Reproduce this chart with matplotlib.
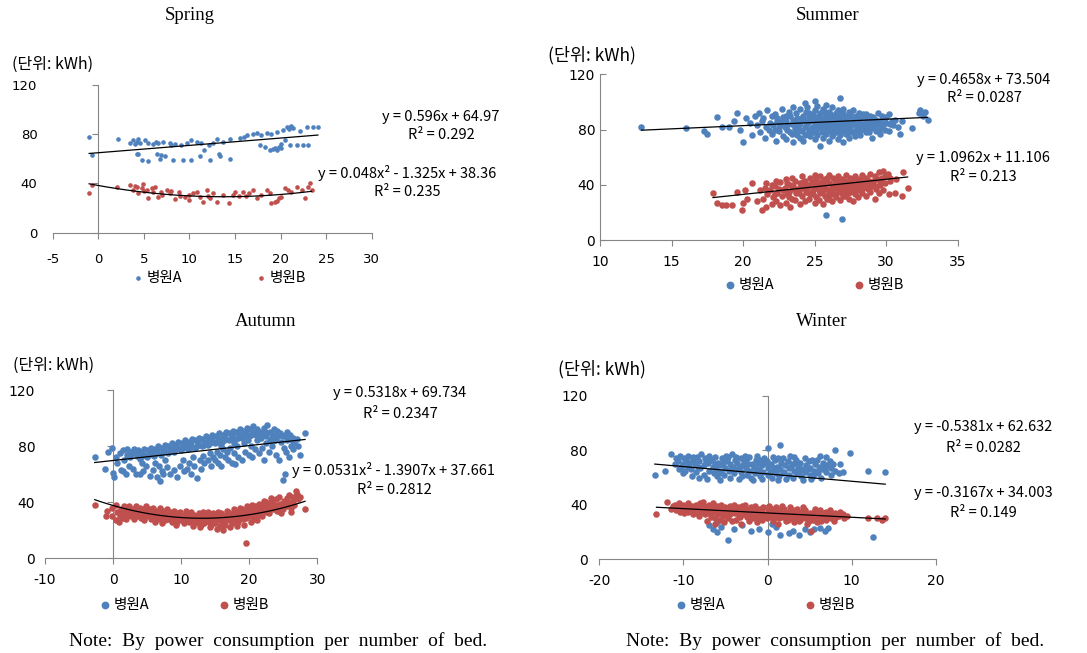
import numpy as np
import matplotlib
matplotlib.use("Agg")
import matplotlib.pyplot as plt

plt.rcParams['font.family'] = ['Noto Sans CJK KR', 'DejaVu Sans']
plt.rcParams['axes.unicode_minus'] = False

W, H = 1087, 653

# ---- data ----
seasons = ["Spring", "Summer", "Autumn", "Winter"]
series_names = ["병원A", "병원B"]
unit_label = "(단위: kWh)"
note_text = "Note:  By  power  consumption  per  number  of  bed."

spring_a = [(-1.0, 77.5), (-0.7, 63), (2.2, 76), (3.5, 73), (3.8, 75), (4.0, 72), (4.2, 74), (4.4, 76),
            (4.6, 73), (5.1, 75), (5.5, 73), (6.0, 72), (6.3, 74), (6.6, 73), (7.1, 74), (7.9, 73),
            (8.0, 71), (8.4, 72), (9.1, 71), (9.7, 73), (10.2, 75), (10.8, 74), (11.3, 73), (12.1, 71),
            (12.6, 73), (13.0, 76), (13.7, 74), (14.4, 76), (4.2, 64), (4.4, 64), (4.8, 59), (5.5, 58),
            (6.4, 64), (6.8, 60), (6.9, 63), (7.3, 62), (8.2, 59), (9.3, 59), (10.2, 59), (11.2, 62),
            (11.6, 67), (12.3, 59), (13.2, 64), (13.4, 62), (14.4, 60), (15.5, 77), (16.0, 78), (16.3, 79),
            (17.0, 80), (17.4, 81), (17.9, 79), (18.5, 81), (19.0, 80), (19.6, 82), (20.3, 83.5), (20.7, 86),
            (20.9, 84), (21.0, 86), (21.2, 87), (21.4, 85), (22.1, 83), (22.9, 86), (23.6, 86), (24.1, 86),
            (17.7, 71), (18.3, 70), (18.8, 67), (19.2, 68), (19.4, 69), (19.6, 67), (19.8, 70), (20.0, 69),
            (20.1, 72), (20.5, 75), (21.0, 71), (21.8, 71), (22.5, 71), (23.0, 71)]
spring_b = [(-1.0, 32), (-0.7, 39), (2.0, 37), (3.5, 39), (3.8, 35), (4.2, 37), (4.4, 32.5), (4.8, 36),
            (4.9, 39.5), (5.3, 35), (5.5, 28), (5.9, 36), (6.2, 37), (6.6, 29), (6.9, 33), (7.5, 35),
            (7.9, 32), (8.4, 27), (8.9, 33), (9.5, 29), (9.9, 26.5), (10.4, 32), (10.8, 33), (11.2, 29),
            (11.5, 25), (11.9, 34.5), (12.3, 28), (12.6, 32), (13.0, 25), (13.7, 30.5), (14.3, 24), (14.8, 31),
            (15.4, 30), (15.9, 33), (16.5, 32), (17.0, 34.5), (17.4, 28), (17.9, 30.5), (18.5, 34.5), (18.8, 32),
            (19.0, 24), (19.4, 25), (19.6, 26), (19.8, 28), (20.1, 29), (20.5, 36), (20.8, 34.5), (21.2, 33),
            (21.8, 37), (22.3, 35), (22.7, 28), (23.0, 37), (23.2, 40), (23.4, 34.5), (4.0, 38), (5.0, 34),
            (6.0, 33), (7.0, 31), (8.0, 34), (9.0, 30), (10.0, 31), (12.0, 30), (15.0, 33), (16.2, 30)]

summer_a = [(12.9, 82), (16.0, 81), (17.3, 79), (17.5, 77), (18.2, 89), (18.5, 82), (19.0, 82), (19.4, 86),
            (19.6, 92), (19.8, 80), (20.0, 71), (20.2, 88), (20.5, 85), (20.6, 76), (20.8, 90), (21.0, 83),
            (21.2, 78), (21.3, 86), (21.1, 92), (21.5, 74), (21.6, 82), (21.4, 88), (21.8, 80), (21.9, 85),
            (21.7, 94), (22.0, 77), (22.1, 83), (22.0, 90), (22.3, 72), (22.4, 86), (22.2, 91), (22.5, 79),
            (22.6, 84), (22.4, 88), (22.7, 95), (22.8, 75), (22.9, 82), (22.8, 89), (23.0, 73), (23.1, 80),
            (23.0, 86), (23.2, 93), (23.3, 78), (23.4, 84), (23.3, 90), (23.5, 96), (23.5, 71), (23.6, 81),
            (23.5, 87), (23.7, 92), (23.8, 76), (23.9, 83), (23.8, 88), (24.0, 95), (24.0, 74), (24.1, 79),
            (24.0, 85), (24.2, 90), (24.2, 72), (24.3, 82), (24.2, 87), (24.4, 93), (24.3, 99), (24.5, 77),
            (24.6, 80), (24.5, 84), (24.6, 89), (24.5, 96), (24.7, 75), (24.8, 81), (24.7, 86), (24.9, 91),
            (25.0, 73), (25.1, 79), (25.0, 83), (25.1, 88), (25.0, 94), (25.0, 101), (25.2, 76), (25.3, 82),
            (25.2, 85), (25.3, 90), (25.2, 97), (25.4, 68), (25.5, 78), (25.4, 84), (25.5, 87), (25.4, 92),
            (25.6, 74), (25.7, 80), (25.6, 86), (25.7, 89), (25.6, 95), (25.8, 77), (25.9, 83), (25.8, 85),
            (25.9, 91), (25.8, 98), (26.0, 72), (26.1, 79), (26.0, 84), (26.1, 88), (26.0, 93), (26.2, 75),
            (26.3, 81), (26.2, 86), (26.3, 90), (26.2, 96), (26.4, 78), (26.5, 83), (26.4, 87), (26.5, 92),
            (26.6, 73), (26.7, 80), (26.6, 85), (26.7, 89), (26.6, 94), (26.8, 76), (26.9, 82), (26.8, 86),
            (26.9, 91), (26.8, 103), (27.0, 71), (27.1, 79), (27.0, 84), (27.1, 88), (27.0, 95), (27.2, 77),
            (27.3, 83), (27.2, 87), (27.3, 90), (27.4, 74), (27.5, 81), (27.4, 85), (27.5, 92), (27.6, 78),
            (27.7, 84), (27.6, 88), (27.7, 94), (27.8, 75), (27.9, 80), (27.8, 86), (27.9, 90), (28.0, 79),
            (28.1, 83), (28.0, 87), (28.1, 92), (28.2, 76), (28.3, 82), (28.2, 85), (28.3, 89), (28.5, 80),
            (28.6, 84), (28.5, 88), (28.6, 91), (28.8, 78), (28.9, 83), (28.8, 86), (28.9, 90), (29.0, 74),
            (29.1, 81), (29.0, 85), (29.1, 89), (29.3, 79), (29.4, 84), (29.3, 87), (29.4, 92), (29.6, 77),
            (29.7, 82), (29.6, 86), (29.7, 90), (29.9, 80), (30.0, 85), (29.9, 88), (30.2, 79), (30.3, 84),
            (30.2, 91), (30.5, 83), (30.6, 87), (31.0, 77), (31.1, 86), (31.8, 81), (32.3, 92), (32.4, 94),
            (32.6, 90), (32.7, 93), (32.9, 87), (25.8, 18), (26.9, 15),
            (24.4, 86), (24.9, 82), (25.3, 88), (25.7, 84), (26.1, 86), (26.5, 85), (26.9, 88), (27.3, 85),
            (27.7, 86), (28.1, 88), (28.5, 85), (28.9, 87), (29.3, 85), (23.6, 85), (24.8, 88), (26.3, 83),
            (22.2, 80), (22.7, 86), (23.1, 83), (23.4, 77), (23.9, 80), (24.3, 76), (24.6, 92), (24.9, 78),
            (25.1, 85), (25.5, 81), (25.7, 93), (26.0, 81), (26.3, 77), (26.5, 89), (26.8, 79), (27.0, 91),
            (27.2, 82), (27.5, 78), (27.7, 89), (27.9, 83), (28.2, 80), (28.4, 91), (28.7, 82), (29.0, 87),
            (29.2, 83), (29.5, 80), (29.8, 84), (30.0, 89), (30.4, 86), (30.8, 82), (23.0, 90), (24.1, 88),
            (25.9, 88), (26.6, 82), (27.4, 93), (28.6, 78), (22.5, 82), (23.7, 79), (26.1, 91), (28.0, 90)]
summer_b = [(17.9, 34), (18.2, 27), (18.5, 25), (18.8, 25), (19.2, 25), (19.6, 35), (19.9, 22), (20.0, 27),
            (20.1, 36), (20.3, 30), (20.6, 41), (21.0, 28), (21.3, 22), (21.4, 30), (21.2, 36), (21.6, 24),
            (21.7, 33), (21.5, 38), (21.6, 41), (22.0, 26), (22.1, 31), (21.9, 36), (22.0, 40), (22.3, 28),
            (22.4, 34), (22.2, 39), (22.3, 43), (22.6, 25), (22.7, 32), (22.5, 37), (22.6, 42), (23.0, 27),
            (23.1, 33), (22.9, 38), (23.0, 44), (23.3, 24), (23.4, 30), (23.2, 35), (23.3, 40), (23.4, 45),
            (23.6, 29), (23.7, 34), (23.5, 39), (23.6, 43), (24.0, 26), (24.1, 32), (23.9, 36), (24.0, 41),
            (24.1, 46), (24.3, 28), (24.4, 35), (24.2, 38), (24.3, 43), (24.6, 30), (24.7, 33), (24.5, 37),
            (24.6, 40), (24.7, 45), (25.0, 27), (25.1, 31), (24.9, 36), (25.0, 39), (25.1, 42), (25.0, 47),
            (25.3, 29), (25.4, 34), (25.2, 38), (25.3, 41), (25.4, 46), (25.6, 26), (25.7, 32), (25.5, 35),
            (25.6, 40), (25.7, 44), (25.9, 30), (26.0, 34), (25.8, 37), (25.9, 42), (26.0, 47), (26.2, 28),
            (26.3, 33), (26.1, 36), (26.2, 39), (26.3, 45), (26.5, 31), (26.6, 35), (26.4, 38), (26.5, 41),
            (26.6, 46), (26.8, 29), (26.9, 34), (26.7, 37), (26.8, 40), (26.9, 44), (27.1, 32), (27.2, 36),
            (27.0, 39), (27.1, 43), (27.2, 47), (27.4, 30), (27.5, 35), (27.3, 38), (27.4, 42), (27.5, 45),
            (27.7, 28), (27.8, 33), (27.6, 37), (27.7, 41), (27.8, 46), (28.0, 31), (28.1, 36), (27.9, 40),
            (28.0, 44), (28.3, 34), (28.4, 38), (28.2, 42), (28.3, 47), (28.6, 32), (28.7, 37), (28.5, 41),
            (28.6, 45), (28.9, 35), (29.0, 39), (28.8, 43), (28.9, 48), (29.2, 30), (29.3, 37), (29.1, 42),
            (29.2, 46), (29.5, 34), (29.6, 40), (29.4, 44), (29.5, 49), (29.8, 36), (29.9, 41), (29.7, 45),
            (29.8, 50), (30.2, 33), (30.3, 43), (30.1, 48), (30.6, 34), (30.7, 44), (31.1, 32), (31.2, 49),
            (31.5, 38),
            (23.8, 37), (24.4, 40), (24.8, 42), (25.2, 40), (25.6, 43), (26.0, 41), (26.4, 43), (26.8, 42),
            (27.2, 40), (27.6, 43), (28.0, 41), (28.4, 44), (28.8, 40), (29.2, 44), (25.4, 37), (26.6, 39),
            (22.2, 33), (22.8, 36), (23.2, 31), (23.5, 37), (23.9, 34), (24.2, 42), (24.5, 35), (24.9, 33),
            (25.1, 44), (25.3, 36), (25.7, 38), (25.9, 45), (26.1, 33), (26.4, 40), (26.7, 43), (26.9, 36),
            (27.1, 41), (27.3, 34), (27.6, 39), (27.9, 43), (28.1, 38), (28.4, 40), (28.7, 43), (29.0, 41),
            (29.3, 39), (29.6, 43), (29.9, 46), (30.3, 45), (24.0, 38), (26.2, 37), (27.8, 36), (28.8, 38),
            (25.5, 42), (23.1, 41), (26.0, 30), (27.0, 32)]

autumn_a = [(-2.7, 72), (-1.2, 64), (-0.8, 76), (-0.2, 79), (0.0, 61), (0.1, 58), (0.5, 72), (0.6, 68),
            (1.0, 75), (1.1, 63), (1.5, 77), (1.6, 70), (1.4, 62), (2.0, 74), (2.1, 78), (1.9, 60),
            (2.5, 72), (2.6, 76), (2.4, 66), (3.0, 75), (3.1, 78), (2.9, 64), (3.5, 73), (3.6, 77),
            (3.4, 60), (4.0, 71), (4.1, 76), (3.9, 60), (4.2, 68), (4.5, 74), (4.6, 78), (4.4, 62),
            (5.0, 72), (5.1, 77), (4.9, 66), (5.5, 75), (5.6, 79), (5.4, 59), (6.0, 73), (6.1, 78),
            (5.9, 63), (6.2, 68), (6.5, 76), (6.6, 80), (6.4, 58), (6.7, 66), (7.0, 74), (7.1, 79),
            (6.9, 55), (7.2, 62), (7.5, 77), (7.6, 81), (7.4, 60), (7.7, 70), (8.0, 75), (8.1, 80),
            (7.9, 65), (8.5, 78), (8.6, 82), (8.4, 60), (9.0, 76), (9.1, 81), (8.9, 63), (9.5, 79),
            (9.6, 83), (9.4, 58), (10.0, 77), (10.1, 82), (9.9, 66), (10.2, 70), (10.5, 80), (10.6, 84),
            (10.4, 62), (11.0, 78), (11.1, 83), (10.9, 64), (11.2, 68), (11.5, 81), (11.6, 85), (11.4, 60),
            (11.7, 72), (12.0, 79), (12.1, 84), (11.9, 66), (12.5, 82), (12.6, 86), (12.4, 57), (12.7, 70),
            (13.0, 80), (13.1, 85), (12.9, 64), (13.2, 73), (13.5, 83), (13.6, 87), (13.4, 68), (14.0, 81),
            (14.1, 86), (13.9, 70), (14.2, 75), (14.5, 84), (14.6, 88), (14.4, 66), (14.7, 72), (15.0, 82),
            (15.1, 87), (14.9, 70), (15.2, 76), (15.5, 85), (15.6, 89), (15.4, 68), (15.7, 74), (16.0, 83),
            (16.1, 88), (15.9, 66), (16.2, 78), (16.5, 86), (16.6, 90), (16.4, 72), (16.7, 76), (17.0, 84),
            (17.1, 89), (16.9, 70), (17.2, 79), (17.5, 87), (17.6, 91), (17.4, 68), (17.7, 75), (18.0, 85),
            (18.1, 90), (17.9, 67), (18.2, 80), (18.5, 88), (18.6, 92), (18.4, 72), (19.0, 86), (19.1, 91),
            (18.9, 70), (19.2, 82), (19.5, 89), (19.6, 93), (19.4, 76), (20.0, 87), (20.1, 92), (19.9, 74),
            (20.2, 80), (20.5, 90), (20.6, 94), (20.4, 72), (21.0, 88), (21.1, 92), (20.9, 78), (21.2, 84),
            (21.5, 86), (21.6, 90), (21.4, 75), (22.0, 89), (22.1, 93), (21.9, 79), (22.2, 70), (22.5, 87),
            (22.6, 95), (22.4, 82), (23.0, 90), (23.1, 84), (22.9, 76), (23.5, 88), (23.6, 92), (23.4, 80),
            (24.0, 86), (24.1, 91), (23.9, 74), (24.5, 89), (24.6, 83), (24.4, 70), (25.0, 87), (25.1, 79),
            (24.9, 56), (25.2, 60), (25.5, 84), (25.6, 90), (25.4, 76), (26.0, 88), (26.1, 80), (25.9, 72),
            (26.5, 86), (26.6, 82), (26.4, 78), (27.0, 85), (27.1, 80), (27.5, 74), (28.2, 89),
            (2.3, 74), (3.3, 76), (4.3, 73), (5.3, 74), (6.3, 75), (7.3, 76), (8.3, 77), (9.3, 78),
            (10.3, 79), (11.3, 79), (12.3, 80), (13.3, 81), (14.3, 82), (15.3, 83), (16.3, 84), (17.3, 85),
            (18.3, 86), (19.3, 87), (20.3, 88), (21.3, 89), (22.3, 90), (23.3, 86), (24.3, 87), (25.3, 88),
            (26.3, 84), (19.8, 84), (21.8, 86), (23.8, 84), (17.8, 82), (15.8, 80)]
autumn_b = [(-2.7, 38), (-1.0, 30), (-0.9, 34), (-0.2, 36), (-0.1, 30), (0.5, 27), (0.6, 33), (0.4, 38),
            (1.0, 30), (1.1, 35), (0.9, 26), (1.5, 33), (1.6, 37), (1.4, 29), (2.0, 31), (2.1, 36),
            (1.9, 28), (2.5, 34), (2.6, 30), (2.4, 37), (3.0, 32), (3.1, 28), (2.9, 35), (3.5, 30),
            (3.6, 34), (3.4, 37), (4.0, 33), (4.1, 29), (3.9, 36), (4.5, 31), (4.6, 27), (4.4, 35),
            (5.0, 34), (5.1, 30), (4.9, 37), (5.5, 32), (5.6, 28), (5.4, 35), (6.0, 30), (6.1, 33),
            (5.9, 36), (6.2, 26), (6.5, 31), (6.6, 28), (6.4, 34), (7.0, 33), (7.1, 29), (6.9, 36),
            (7.2, 25), (7.5, 30), (7.6, 27), (7.4, 34), (8.0, 32), (8.1, 28), (7.9, 35), (8.5, 30),
            (8.6, 26), (8.4, 33), (9.0, 31), (9.1, 28), (8.9, 34), (9.2, 24), (9.5, 29), (9.6, 32),
            (9.4, 26), (10.0, 30), (10.1, 27), (9.9, 33), (10.5, 28), (10.6, 31), (10.4, 25), (10.7, 34),
            (11.0, 29), (11.1, 26), (10.9, 32), (11.5, 30), (11.6, 27), (11.4, 33), (11.7, 23), (12.0, 28),
            (12.1, 25), (11.9, 31), (12.5, 29), (12.6, 32), (12.4, 26), (12.7, 22), (13.0, 27), (13.1, 30),
            (12.9, 24), (13.2, 33), (13.5, 28), (13.6, 31), (13.4, 25), (14.0, 30), (14.1, 26), (13.9, 33),
            (14.2, 22), (14.5, 27), (14.6, 29), (14.4, 24), (14.7, 32), (15.0, 28), (15.1, 31), (14.9, 25),
            (15.2, 21), (15.5, 30), (15.6, 27), (15.4, 33), (15.7, 23), (16.0, 29), (16.1, 26), (15.9, 32),
            (16.2, 20), (16.5, 28), (16.6, 31), (16.4, 24), (16.7, 34), (17.0, 30), (17.1, 27), (16.9, 33),
            (17.2, 22), (17.5, 29), (17.6, 32), (17.4, 25), (17.7, 35), (18.0, 31), (18.1, 27), (17.9, 34),
            (18.2, 23), (18.5, 30), (18.6, 33), (18.4, 26), (18.7, 36), (19.0, 32), (19.1, 28), (18.9, 35),
            (19.2, 24), (19.5, 29), (19.6, 34), (19.5, 11), (19.7, 37), (20.0, 33), (20.1, 30), (19.9, 36),
            (20.2, 26), (20.5, 31), (20.6, 35), (20.4, 38), (20.7, 28), (21.0, 34), (21.1, 30), (20.9, 37),
            (21.2, 27), (21.5, 36), (21.6, 32), (21.4, 39), (22.0, 35), (22.1, 38), (21.9, 30), (22.2, 41),
            (22.5, 33), (22.6, 37), (22.4, 40), (23.0, 36), (23.1, 39), (22.9, 32), (23.2, 43), (23.5, 35),
            (23.6, 38), (23.4, 41), (24.0, 37), (24.1, 34), (23.9, 42), (24.5, 39), (24.6, 36), (24.4, 44),
            (24.7, 32), (25.0, 38), (25.1, 41), (24.9, 35), (25.5, 37), (25.6, 43), (25.4, 40), (26.0, 39),
            (26.1, 36), (25.9, 45), (26.2, 33), (26.5, 41), (26.6, 38), (26.4, 44), (27.0, 46), (27.1, 42),
            (26.9, 48), (27.5, 44), (28.2, 35),
            (1.2, 32), (2.2, 33), (3.2, 31), (4.2, 32), (5.2, 31), (6.3, 30), (7.3, 31), (8.3, 30),
            (9.3, 30), (10.3, 29), (11.3, 29), (12.3, 28), (13.3, 29), (14.3, 28), (15.3, 29), (16.3, 27),
            (17.3, 28), (18.3, 29), (19.3, 31), (20.3, 32), (21.3, 33), (22.3, 35), (23.3, 37), (24.3, 38),
            (25.3, 39), (26.3, 40), (16.8, 30), (18.8, 31), (13.8, 27), (11.8, 30)]

winter_a = [(-13.4, 62), (-12.2, 65), (-11.5, 77), (-11.0, 70), (-10.9, 74), (-10.5, 66), (-10.6, 72), (-10.4, 76),
            (-10.0, 63), (-10.1, 70), (-9.9, 74), (-9.5, 68), (-9.6, 72), (-9.4, 76), (-9.0, 61), (-9.1, 66),
            (-8.9, 73), (-8.5, 64), (-8.6, 70), (-8.4, 75), (-8.0, 67), (-8.1, 72), (-7.9, 77), (-8.2, 60),
            (-7.5, 62), (-7.6, 69), (-7.4, 74), (-7.0, 65), (-7.1, 71), (-6.9, 76), (-7.2, 59), (-6.5, 68),
            (-6.6, 73), (-6.4, 63), (-6.0, 61), (-6.1, 66), (-5.9, 71), (-6.2, 75), (-5.5, 64), (-5.6, 69),
            (-5.4, 74), (-5.7, 58), (-5.0, 67), (-5.1, 72), (-4.9, 76), (-5.2, 62), (-4.5, 60), (-4.6, 65),
            (-4.4, 70), (-4.7, 75), (-4.0, 63), (-4.1, 68), (-3.9, 73), (-4.2, 77), (-3.5, 66), (-3.6, 71),
            (-3.4, 59), (-3.7, 75), (-3.0, 61), (-3.1, 64), (-2.9, 69), (-3.2, 74), (-2.5, 67), (-2.6, 72),
            (-2.4, 62), (-2.7, 76), (-2.0, 60), (-2.1, 65), (-1.9, 70), (-2.2, 75), (-1.5, 63), (-1.6, 68),
            (-1.4, 73), (-1.7, 58), (-1.0, 66), (-1.1, 71), (-0.9, 61), (-1.2, 76), (-0.5, 64), (-0.6, 69),
            (-0.4, 74), (-0.7, 59), (0.0, 62), (0.1, 67), (-0.1, 72), (0.0, 82), (0.5, 60), (0.6, 65),
            (0.4, 70), (0.7, 75), (1.0, 63), (1.1, 68), (0.9, 73), (1.2, 58), (1.5, 66), (1.6, 71),
            (1.5, 84), (1.4, 61), (2.0, 64), (2.1, 69), (1.9, 74), (2.2, 59), (2.5, 62), (2.6, 67),
            (2.4, 72), (2.7, 76), (3.0, 60), (3.1, 65), (2.9, 70), (3.2, 75), (3.5, 63), (3.6, 68),
            (3.4, 73), (4.0, 61), (4.1, 66), (3.9, 71), (4.2, 58), (4.5, 64), (4.6, 69), (4.4, 74),
            (5.0, 62), (5.1, 67), (4.9, 72), (5.2, 59), (5.5, 65), (5.6, 70), (5.4, 61), (6.0, 63),
            (6.1, 68), (5.9, 73), (6.2, 76), (6.5, 66), (6.6, 71), (6.4, 60), (7.0, 64), (7.1, 69),
            (6.9, 75), (7.5, 62), (7.6, 67), (7.4, 72), (8.0, 65), (8.0, 80), (8.5, 63), (8.6, 70),
            (9.0, 64), (9.8, 78), (12.0, 65), (14.0, 64), (-7.0, 25), (-6.5, 22), (-6.0, 20), (-5.5, 24),
            (-4.7, 14), (-4.0, 22), (-3.0, 25), (-2.0, 21), (-1.0, 22), (0.0, 20), (1.0, 24), (1.5, 18),
            (2.5, 19), (3.0, 21), (3.7, 18), (4.5, 22), (5.0, 20), (5.5, 22), (6.2, 23), (6.8, 21),
            (7.2, 23), (12.5, 16), (-6.0, 27), (0.5, 26),
            (-10.3, 68), (-9.3, 70), (-8.3, 68), (-7.3, 72), (-6.3, 70), (-5.3, 71), (-4.3, 67), (-3.3, 68),
            (-2.3, 70), (-1.3, 66), (-0.3, 71), (0.8, 67), (1.8, 63), (2.8, 68), (3.8, 65), (4.8, 66),
            (5.8, 64), (6.8, 67), (7.8, 70), (-8.8, 75), (-6.8, 73), (-4.8, 73), (-2.8, 72), (-0.8, 73),
            (1.3, 74), (3.3, 71), (5.3, 73), (-9.8, 65), (-5.8, 63), (0.3, 63)]
winter_b = [(-13.2, 33), (-12.0, 42), (-11.5, 37), (-11.0, 40), (-10.9, 36), (-10.5, 41), (-10.6, 38), (-10.4, 35),
            (-10.0, 40), (-10.1, 37), (-9.9, 34), (-9.5, 41), (-9.6, 38), (-9.4, 35), (-9.0, 39), (-9.1, 36),
            (-8.9, 33), (-8.5, 40), (-8.6, 37), (-8.4, 34), (-8.0, 41), (-8.1, 38), (-7.9, 35), (-8.2, 32),
            (-7.5, 39), (-7.6, 36), (-7.4, 33), (-7.7, 42), (-7.0, 40), (-7.1, 37), (-6.9, 34), (-7.2, 28),
            (-6.5, 41), (-6.6, 38), (-6.4, 35), (-6.7, 31), (-6.3, 26), (-6.0, 39), (-6.1, 36), (-5.9, 33),
            (-6.2, 30), (-5.5, 40), (-5.6, 37), (-5.4, 34), (-5.7, 29), (-5.0, 38), (-5.1, 35), (-4.9, 32),
            (-5.2, 27), (-4.5, 39), (-4.6, 36), (-4.4, 33), (-4.7, 30), (-4.0, 40), (-4.1, 37), (-3.9, 34),
            (-4.2, 28), (-3.5, 38), (-3.6, 35), (-3.4, 32), (-3.7, 29), (-3.0, 39), (-3.1, 36), (-2.9, 33),
            (-3.2, 26), (-2.5, 37), (-2.6, 34), (-2.4, 31), (-2.7, 40), (-2.0, 38), (-2.1, 35), (-1.9, 32),
            (-2.2, 28), (-1.5, 39), (-1.6, 36), (-1.4, 33), (-1.7, 30), (-1.0, 37), (-1.1, 34), (-0.9, 31),
            (-1.2, 27), (-0.5, 38), (-0.6, 35), (-0.4, 32), (-0.7, 29), (0.0, 36), (0.1, 33), (-0.1, 30),
            (0.2, 39), (0.5, 37), (0.6, 34), (0.4, 31), (0.7, 28), (1.0, 38), (1.1, 35), (0.9, 32),
            (1.2, 26), (1.5, 36), (1.6, 33), (1.4, 30), (1.7, 39), (2.0, 37), (2.1, 34), (1.9, 31),
            (2.2, 28), (2.5, 35), (2.6, 32), (2.4, 29), (2.7, 38), (3.0, 36), (3.1, 33), (2.9, 30),
            (3.2, 27), (3.5, 37), (3.6, 34), (3.4, 31), (3.7, 28), (4.0, 35), (4.1, 32), (3.9, 29),
            (4.2, 38), (4.5, 36), (4.6, 33), (4.4, 30), (4.7, 26), (5.0, 34), (5.1, 31), (4.9, 28),
            (5.2, 21), (5.5, 35), (5.6, 32), (5.4, 29), (5.7, 37), (6.0, 33), (6.1, 30), (5.9, 27),
            (6.2, 36), (6.5, 34), (6.6, 31), (6.4, 28), (7.0, 35), (7.1, 32), (6.9, 29), (7.5, 33),
            (7.6, 30), (7.4, 36), (8.0, 34), (8.1, 31), (7.9, 28), (8.5, 32), (8.6, 35), (9.0, 33),
            (9.1, 30), (9.5, 32), (12.0, 30), (13.0, 30), (13.6, 29), (14.0, 30),
            (-11.2, 39), (-10.2, 39), (-9.2, 38), (-8.3, 39), (-7.3, 38), (-6.8, 36), (-5.8, 38), (-4.8, 37),
            (-3.8, 36), (-2.8, 35), (-1.8, 37), (-0.8, 35), (0.3, 35), (1.3, 34), (2.3, 33), (3.3, 35),
            (4.3, 34), (5.3, 33), (6.3, 32), (7.3, 31), (8.3, 33), (-7.8, 37), (-5.3, 32), (-3.3, 31),
            (-1.3, 30), (0.8, 30), (2.8, 31), (4.8, 30), (6.8, 34), (-9.7, 36), (-2.3, 33), (3.8, 32)]

# trendline coefficients (highest power first), as printed on the chart
fits_a = [[0.596, 64.97], [0.4658, 73.504], [0.5318, 69.734], [-0.5381, 62.632]]
fits_b = [[0.048, -1.325, 38.36], [1.0962, 11.106], [0.0531, -1.3907, 37.661], [-0.3167, 34.003]]
eq_a = [("y = 0.596x + 64.97", "R² = 0.292"), ("y = 0.4658x + 73.504", "R² = 0.0287"),
        ("y = 0.5318x + 69.734", "R² = 0.2347"), ("y = -0.5381x + 62.632", "R² = 0.0282")]
eq_b = [("y = 0.048x² - 1.325x + 38.36", "R² = 0.235"), ("y = 1.0962x + 11.106", "R² = 0.213"),
        ("y = 0.0531x² - 1.3907x + 37.661", "R² = 0.2812"), ("y = -0.3167x + 34.003", "R² = 0.149")]
x_limits = [(-5, 30), (10, 35), (-10, 30), (-20, 20)]
x_steps = [5, 5, 10, 10]
y_ticks = [0, 40, 80, 120]
points_a = [spring_a, summer_a, autumn_a, winter_a]
points_b = [spring_b, summer_b, autumn_b, winter_b]

# ---- layout (pixel positions in the 1087x653 picture) ----
axes_px = [(52.7, 85, 371.7, 232.7), (600, 74.3, 957.7, 240),
           (45, 390, 317.3, 558.3), (599.3, 395.7, 935.7, 559.3)]
title_px = [(190, 15), (828, 15), (266, 322), (822, 322)]
unit_px = [(12, 64), (548, 55), (13, 365), (558, 369)]
unit_fs = [11.5, 12.5, 11.5, 12.5]
eq_a_px = [(441, 117, 135), (984, 80, 98), (400, 393, 414), (983, 427, 448)]
eq_b_px = [(407, 173, 192), (983, 158, 177), (394, 470, 490), (983, 493, 513)]
legend_px = [(138, 278), (730, 285), (105, 605), (681, 605)]   # x of the first legend marker
legend_gap = [5.1, 5.5, 4.8, 5.5]
tick_fs = [9.5, 10, 10, 10]
ylab_pad = [11, 3.5, 7, 8.5]
xlab_pad = [10.5, 6.5, 6.5, 6.5]
msize = [11, 22, 22, 22]
note_px = [(278, 641), (835, 641)]

blue = "#4F81BD"
red = "#C0504D"
axis_gray = "#868686"
leg_fs = 10.5
handle_len = 0.6


def fx(x):
    return x / W


def fy(y):
    return 1 - y / H


fig = plt.figure(figsize=(W / 100, H / 100), dpi=100)

for i in range(4):
    x0, y0, x1, y1 = axes_px[i]
    ax = fig.add_axes([fx(x0), fy(y1), (x1 - x0) / W, (y1 - y0) / H])
    ax.set_xlim(*x_limits[i])
    ax.set_ylim(0, 120)

    ax_pts, ay_pts = zip(*points_a[i])
    bx_pts, by_pts = zip(*points_b[i])
    sa = ax.scatter(ax_pts, ay_pts, s=msize[i], color=blue, linewidths=0, zorder=3, label=series_names[0])
    sb = ax.scatter(bx_pts, by_pts, s=msize[i], color=red, linewidths=0, zorder=3, label=series_names[1])

    xa = np.linspace(min(ax_pts), max(ax_pts), 100)
    ax.plot(xa, np.polyval(fits_a[i], xa), color="black", lw=0.9, zorder=4)
    xb = np.linspace(min(bx_pts), max(bx_pts), 100)
    ax.plot(xb, np.polyval(fits_b[i], xb), color="black", lw=0.9, zorder=4)

    lo, hi = x_limits[i]
    ax.set_xticks(np.arange(lo, hi + 1, x_steps[i]))
    ax.set_yticks(y_ticks)
    for side in ["top", "right", "left"]:
        ax.spines[side].set_visible(False)
    ax.spines["bottom"].set_color(axis_gray)
    ax.tick_params(axis="x", direction="out", length=4, color=axis_gray, labelsize=tick_fs[i],
                   pad=xlab_pad[i])
    ax.tick_params(axis="y", length=0, labelsize=tick_fs[i], pad=ylab_pad[i])
    for lab in ax.get_xticklabels() + ax.get_yticklabels():
        lab.set_family("DejaVu Sans")

    # vertical axis crossing at x = 0 (or at the left edge)
    cross = 0 if lo < 0 else lo
    sec = ax.secondary_yaxis(cross, transform=ax.transData)
    sec.spines["left"].set_color(axis_gray)
    sec.spines["right"].set_color(axis_gray)
    sec.set_yticks(y_ticks)
    sec.set_yticklabels([])
    sec.tick_params(axis="y", direction="out", length=4, color=axis_gray,
                    labelleft=False, labelright=False)

    # trendline equations
    tx, ty1, ty2 = eq_a_px[i]
    fig.text(fx(tx), fy(ty1), eq_a[i][0], ha="center", va="center", fontsize=10.5)
    fig.text(fx(tx), fy(ty2), eq_a[i][1], ha="center", va="center", fontsize=10.5)
    tx, ty1, ty2 = eq_b_px[i]
    fig.text(fx(tx), fy(ty1), eq_b[i][0], ha="center", va="center", fontsize=10.5)
    fig.text(fx(tx), fy(ty2), eq_b[i][1], ha="center", va="center", fontsize=10.5)

    fig.text(fx(title_px[i][0]), fy(title_px[i][1]), seasons[i], ha="center", va="center",
             fontsize=13.5, family="Liberation Serif")
    fig.text(fx(unit_px[i][0]), fy(unit_px[i][1]), unit_label, ha="left", va="center", fontsize=unit_fs[i])

    handle_half = handle_len * leg_fs * 100 / 72 / 2
    ax.legend(handles=[sa, sb], loc="center left",
              bbox_to_anchor=(fx(legend_px[i][0] - handle_half), fy(legend_px[i][1])),
              bbox_transform=fig.transFigure, ncol=2, frameon=False, fontsize=leg_fs,
              columnspacing=legend_gap[i], handlelength=handle_len, handletextpad=0.3,
              markerscale=1.2 if i > 0 else 1.0, borderpad=0, borderaxespad=0)

for nx, ny in note_px:
    fig.text(fx(nx), fy(ny), note_text, ha="center", va="center", fontsize=14, family="Liberation Serif")

fig.savefig("out.png", dpi=100)
